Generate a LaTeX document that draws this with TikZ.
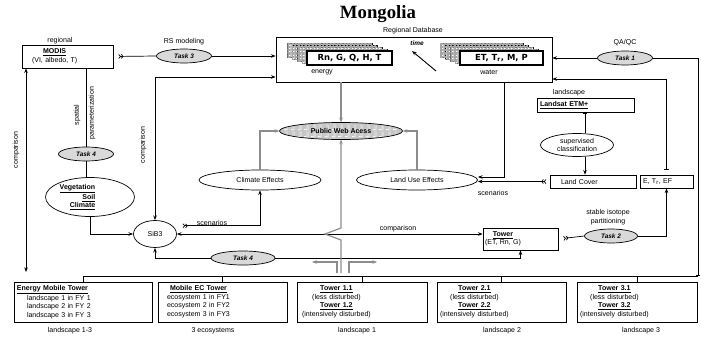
\documentclass[tikz,border=0pt]{standalone}
\usepackage{fontspec}
\setmainfont{Liberation Sans}
\newfontfamily\titlefont{Liberation Serif}
\newfontfamily\heavyfont{DejaVu Sans}
\usepackage{xcolor}
\usepackage{tikz}
\usetikzlibrary{shapes}
\usetikzlibrary{arrows.meta}
\usetikzlibrary{patterns.meta}

\begin{document}
\begin{tikzpicture} [
            x = 0.03cm,
            y = -0.03cm,
            font = \fontsize{6}{7.3}\selectfont,
            line width = 0.6pt,
            >={Stealth[length=4pt, width=3pt]},
            % ----- Node definitions ----- %
            plainbox/.style 2 args = {
                draw,
                rectangle,
                minimum width = #1*0.03cm,
                minimum height = #2*0.03cm,
                inner sep = 0pt
            },
            leftbox/.style n args = {3}{
                draw,
                rectangle,
                minimum height = #2*0.03cm,
                inner xsep = #3*0.03cm,
                inner ysep = 0pt,
                text width = (#1-2*#3)*0.03cm,
                align = left
            },
            oval/.style 2 args = {
                draw,
                ellipse,
                minimum width = #1*0.03cm,
                minimum height = #2*0.03cm,
                inner sep = 0pt,
                align = center
            },
            tasknode/.style = {
                oval = {#1}{14},
                fill = gray!30,
                font = \fontsize{5.5}{6}\selectfont\bfseries\itshape
            },
            stackback/.style = {
                draw,
                fill = white,
                postaction = {pattern = {Hatch[angle=0, distance=1.2pt, line width=0.15pt]}, pattern color = gray!70}
            },
            stackfront/.style 2 args = {
                draw,
                line width = 1.1pt,
                fill = white,
                minimum width = #1*0.03cm,
                minimum height = #2*0.03cm,
                inner sep = 0pt,
                font = \heavyfont\bfseries\fontsize{7.2}{8}\selectfont
            },
            labelnode/.style = {
                inner sep = 0pt,
                align = center
            },
            % ----- Edge definitions ----- %
            grayarrow/.style = {->, draw = black!45, line width = 1pt},
            tailmark/.style = {{Straight Barb[reversed, length=1.5pt, width=3.5pt] Straight Barb[reversed, length=1.5pt, width=3.5pt]}-},
            tailarrow/.style = {{Straight Barb[reversed, length=1.5pt, width=3.5pt] Straight Barb[reversed, length=1.5pt, width=3.5pt]}->},
            barmark/.style = {{Bar[width=4pt]}-},
            bararrow/.style = {{Bar[width=4pt]}->}
    ]
    \useasboundingbox (0,0) rectangle (701,337);

            % ----- Title ----- %
        \node [labelnode, font = \titlefont\bfseries\fontsize{16}{18}\selectfont] (title) at (378,14) {Mongolia};

            % ----- Regional database ----- %
        \node [plainbox = {276}{45}] (db) at (414,59.5) {};
        \node [labelnode] (dblabel) at (413,31) {Regional Database};
        \foreach \k in {4,3,2,1} {
            \draw [stackback] ({307-5*\k},{51-2*\k}) rectangle ++(85,14);
            \draw [stackback] ({460-5*\k},{51-2*\k}) rectangle ++(83,14);
        }
        \node [stackfront = {85}{14}] (energyvars) at (349.5,58) {Rn, G, Q, H, T};
        \node [stackfront = {83}{14}] (watervars) at (501.5,58) {ET, T\textsubscript{r}, M, P};
        \node [labelnode] (energylabel) at (322,72) {energy};
        \node [labelnode] (waterlabel) at (489,72) {water};
        \node [labelnode, font = \fontsize{5.5}{6}\selectfont\bfseries\itshape] (timelabel) at (417,43) {time};
        \coordinate (timebase) at (436,71);
        \draw [->, line width = 0.8pt] (timebase) -- (412,51);

            % ----- Left column ----- %
        \node [leftbox = {91}{23}{10}] (modis) at (67.5,56.5) {
            \begin{tabular}{@{}c@{}}\underline{\textbf{MODIS}}\\(VI, albedo, T)\end{tabular}};
        \node [labelnode] (modislabel) at (60,41) {regional};
        \node [tasknode = 55] (task3) at (184,56) {Task 3};
        \node [labelnode] (task3label) at (184,42) {RS modeling};
        \node [tasknode = 55] (task4a) at (86,154) {Task 4};
        \node [oval = {89}{39}] (veg) at (90,197) {
            \begin{tabular}{@{}r@{}}\underline{\textbf{Vegetation}}\\\underline{\textbf{Soil}}\\\underline{\textbf{Climate}}\end{tabular}\hspace*{0.75cm}};
        \node [oval = {43}{27}] (sib) at (155,234) {SiB3};
        \node [tasknode = 64] (task4b) at (243,258) {Task 4};
        \node [labelnode, rotate = 90] (cmpleft) at (16,150) {comparison};
        \node [labelnode, rotate = 90] (cmpsib) at (143,145) {comparison};
        \node [labelnode, rotate = 90] (spatial) at (77,115) {spatial};
        \node [labelnode, rotate = 90] (param) at (92,113) {parameterization};

            % ----- Centre ----- %
        \node [oval = {123}{17}, font = \fontsize{6}{7}\selectfont\bfseries,
               preaction = {fill = white},
               pattern = {Hatch[angle=0, distance=1pt, line width=0.15pt]}, pattern color = gray!45] (pwa) at (341,131) {Public Web Acess};
        \node [oval = {122}{20}] (climate) at (260,180) {Climate Effects};
        \node [oval = {121}{20}] (landuse) at (417,180) {Land Use Effects};
        \node [labelnode] (scenleft) at (212,223) {scenarios};
        \node [labelnode] (cmpmid) at (398,229) {comparison};

            % ----- Right column ----- %
        \node [tasknode = 55] (task1) at (625,58) {Task 1};
        \node [labelnode] (task1label) at (625,43) {QA/QC};
        \node [leftbox = {97}{14}{3}] (landsat) at (585.5,105.5) {\underline{\textbf{Landsat ETM+}}};
        \node [labelnode] (landsatlabel) at (569,93) {landscape};
        \node [oval = {73}{23}] (superv) at (577,145) {supervised\\classification};
        \node [leftbox = {86}{13}{11}] (landcover) at (593,181.5) {Land Cover};
        \node [leftbox = {53}{13}{3}] (ebox) at (666.5,181.5) {E, T\textsubscript{r}, EF};
        \node [labelnode] (scenright) at (493,193) {scenarios};
        \node [leftbox = {75}{22}{2}] (tower) at (520.5,239) {
            \begin{tabular}{@{}c@{}}\underline{\textbf{Tower}}\\(ET, Rn, G)\end{tabular}};
        \node [tasknode = 53] (task2) at (611,236) {Task 2};
        \node [labelnode] (task2label) at (608,217) {stable isotope\\partitioning};

            % ----- Tower sites ----- %
        \node [leftbox = {138}{40}{3}] (emt) at (83,302) {
            \begin{tabular}{@{}l@{}}\underline{\textbf{Energy Mobile Tower}}\\
            \hspace*{0.3cm}landscape 1 in FY 1\\\hspace*{0.3cm}landscape 2 in FY 2\\\hspace*{0.3cm}landscape 3 in FY 3\end{tabular}};
        \node [leftbox = {129}{40}{9}] (ect) at (222.5,302) {
            \begin{tabular}{@{}c@{}}\underline{\textbf{Mobile EC Tower}}\\
            ecosystem 1 in FY1\\ecosystem 2 in FY2\\ecosystem 3 in FY3\end{tabular}};
        \node [leftbox = {130}{40}{5}] (t1) at (362,302) {
            \begin{tabular}{@{}c@{}}\underline{\textbf{Tower 1.1}}\\(less disturbed)\\
            \underline{\textbf{Tower 1.2}}\\(intensively disturbed)\end{tabular}};
        \node [leftbox = {129}{40}{3}] (t2) at (501.5,302) {
            \begin{tabular}{@{}c@{}}\underline{\textbf{Tower 2.1}}\\(less disturbed)\\
            \underline{\textbf{Tower 2.2}}\\(intensively disturbed)\end{tabular}};
        \node [leftbox = {120}{40}{3}] (t3) at (637,302) {
            \begin{tabular}{@{}c@{}}\underline{\textbf{Tower 3.1}}\\(less disturbed)\\
            \underline{\textbf{Tower 3.2}}\\(intensively disturbed)\end{tabular}};
        \node [labelnode] (emtlabel) at (70,331) {landscape 1-3};
        \node [labelnode] (ectlabel) at (213,331) {3 ecosystems};
        \node [labelnode] (t1label) at (357,331) {landscape 1};
        \node [labelnode] (t2label) at (502,331) {landscape 2};
        \node [labelnode] (t3label) at (641,331) {landscape 3};

            % ----- Connections ----- %
        \coordinate (busend) at (698,276);
        \coordinate (emtop) at (26,272);
        \draw (emt.north |- busend) -- (busend);
        \foreach \tw in {emt, ect, t1, t2, t3}
            \draw (\tw.north) -- (\tw.north |- busend);
        \draw [barmark] (busend) |- (task1.east);
        \draw [->] (task1.west) -- (task1.west -| db.east);

        \draw [tailmark, shorten <= 0.15cm] (modis.east) -- (task3.west);
        \draw [->] (task3.east) -- (task3.east -| db.west);
        \draw [<->] (sib.north) |- ([yshift=-0.525cm]db.west);
        \draw [<->] (emtop) -- (emtop |- modis.south);
        \draw [barmark] (modis.south -| task4a) -- (task4a.north);
        \draw (task4a.south) -- (veg.north -| task4a);
        \draw [->] (veg.south) |- (sib.west);
        \draw [tailarrow, shorten <= 0.3cm] (sib.25) -| (climate.south);
        \draw [<->] (sib.east) -- (sib.east -| tower.west);
        \draw [->] (task4b.west) -| (sib.south);
        \draw [->] (task4b.east) -| (tower.south);

        \draw [grayarrow] (db.south -| pwa.north) -- (pwa.north);
        \draw [grayarrow] (climate.north) |- (pwa.west);
        \draw [grayarrow] (landuse.north) |- (pwa.east);
        \coordinate (hubleft) at (337,273);
        \coordinate (hubmid) at (341,273);
        \coordinate (hubright) at (349,273);
        \draw [grayarrow] (hubleft) |- ++(-25,-11);
        \draw [grayarrow] (hubright) |- ++(28,-11);
        \draw [grayarrow] (hubmid) -- ++(0,-33) -- ++(-16,-6) -- ++(16,-6) -- (pwa.south);

        \draw [bararrow] ([xshift=-1.44cm]db.south east) |- ([yshift=0.09cm]landuse.east);
        \draw [tailarrow, shorten <= 0.1cm] (landcover.west) -- (landcover.west -| landuse.east);
        \draw [barmark] (landsat.south -| 585,0) -- (superv.north -| 585,0);
        \draw [->] (superv.south -| 585,0) -- (landcover.north -| 585,0);
        \draw [bararrow, shorten <= 0.15cm] (ebox.north) |- ([yshift=-0.585cm]db.east);
        \draw [tailmark, shorten <= 0.15cm] (tower.east) -- (task2.west);
        \draw [->] (task2.east) -| (ebox.south);
\end{tikzpicture}
\end{document}
